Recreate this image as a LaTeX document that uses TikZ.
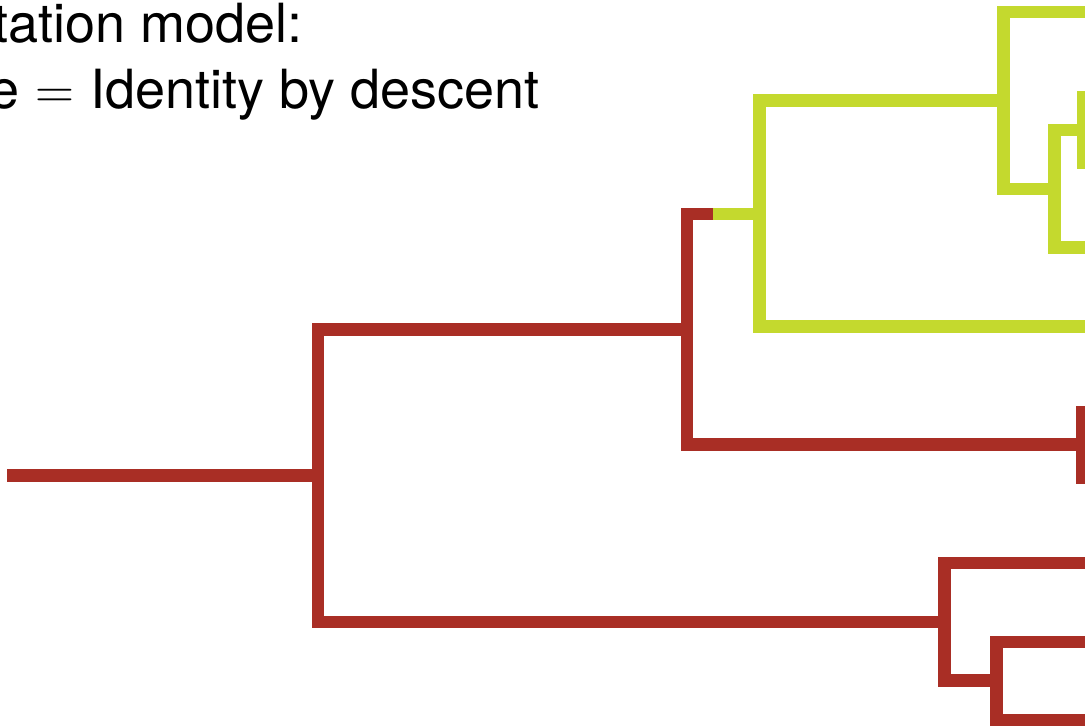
\documentclass[tikz,border=0pt]{standalone}
\usepackage{fontspec}
\setmainfont{TeX Gyre Heros}
\newfontfamily\eqfont{Latin Modern Roman}
\definecolor{ibdred}{RGB}{169,46,37}
\definecolor{ibdgreen}{RGB}{196,217,46}
\tikzset{
  branch/.style={line width=12.5pt, line join=miter, line cap=butt},
  redbranch/.style={branch, draw=ibdred},
  greenbranch/.style={branch, draw=ibdgreen},
  caption/.style={font=\fontsize{54}{66}\selectfont, inner sep=0pt, anchor=base east}
}
\begin{document}
\begin{tikzpicture}[x=1pt, y=-1pt]
  \useasboundingbox (0,0) rectangle (1085,728);
  \clip (0,0) rectangle (1085,728);

  % heading
  \node[caption] (line1) at (303,42) {tation model:};
  \node[caption] (line2) at (540,108) {e\hspace{0.3em}{\eqfont =}\hspace{0.3em}Identity by descent};

  % internal nodes (vertical bar centre x, branch y)
  \coordinate (start) at (7,475.5);
  \coordinate (root)  at (318,475.5);
  \coordinate (up)    at (687,329.5);
  \coordinate (low)   at (944.5,622);
  \coordinate (split) at (713,214);
  \coordinate (gr)    at (759.5,214);
  \coordinate (g2)    at (1003.5,100.5);
  \coordinate (g3)    at (1054.5,189);
  \coordinate (g4)    at (1083,130);
  \coordinate (r2)    at (1082,444.5);
  \coordinate (b2)    at (996.5,680.5);
  % leaf ends beyond the right edge
  \coordinate (gleafA) at (1110,12);
  \coordinate (gleafB) at (1110,247.5);
  \coordinate (gleafC) at (1110,326.5);
  \coordinate (bleafA) at (1110,563);
  \coordinate (bleafB) at (1110,642);
  \coordinate (bleafC) at (1110,720);
  \coordinate (r2top)  at (1082,405.5);
  \coordinate (r2bot)  at (1082,483.5);
  \coordinate (g4top)  at (1083,90.5);
  \coordinate (g4bot)  at (1083,168.5);

  % red part of the tree
  \draw[redbranch] (start) -- (root);
  \draw[redbranch] (root) |- (up);
  \draw[redbranch] (root) |- (low);
  \draw[redbranch] (up) |- (split);
  \draw[redbranch] (up) |- (r2);
  \draw[redbranch] (r2top) -- (r2bot);
  \draw[redbranch] (low) |- (bleafA);
  \draw[redbranch] (low) |- (b2);
  \draw[redbranch] (b2) |- (bleafB);
  \draw[redbranch] (b2) |- (bleafC);

  % green (identity by descent) clade
  \draw[greenbranch] (split) -- (gr);
  \draw[greenbranch] (gr) |- (g2);
  \draw[greenbranch] (gr) |- (gleafC);
  \draw[greenbranch] (g2) |- (gleafA);
  \draw[greenbranch] (g2) |- (g3);
  \draw[greenbranch] (g3) |- (g4);
  \draw[greenbranch] (g3) |- (gleafB);
  \draw[greenbranch] (g4top) -- (g4bot);
\end{tikzpicture}
\end{document}
